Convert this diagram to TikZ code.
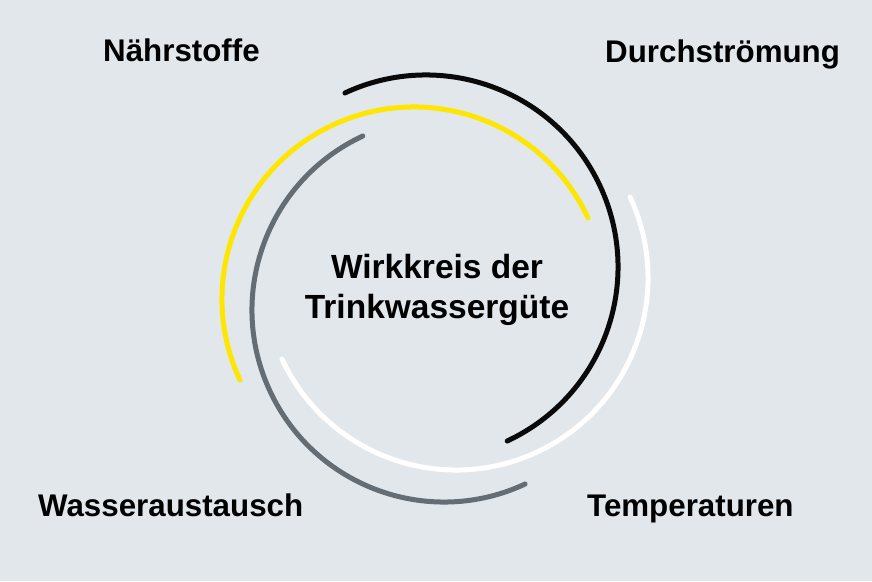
\documentclass[tikz,border=0pt]{standalone}
\usepackage{fontspec}
\setmainfont{Liberation Sans}
\definecolor{bg}{HTML}{E1E7EB}
\definecolor{arcyellow}{HTML}{FFE600}
\definecolor{arcgrey}{HTML}{646D73}
\definecolor{arcblack}{HTML}{0A0A0A}
\begin{document}
\begin{tikzpicture}[x=1pt,y=1pt,
  ring/.style={line width=5pt,line cap=round},
  label/.style={font=\fontsize{31.3}{37}\selectfont\bfseries,inner sep=0pt,text=black},
  title/.style={font=\fontsize{33.5}{40}\selectfont\bfseries,inner sep=0pt,align=center,text=black}]
\fill[bg] (0,0) rectangle (872,581);
\useasboundingbox (0,0) rectangle (872,581);
% centres of the four half circles
\coordinate (cb) at (426,314);
\coordinate (cy) at (414,282);
\coordinate (cg) at (444,271);
\coordinate (cw) at (456,303);
\draw[ring,arcblack] (cb) ++(115:192) arc[start angle=115,end angle=-65,radius=192];
\draw[ring,arcyellow] (cy) ++(25:192) arc[start angle=25,end angle=205,radius=192];
\draw[ring,arcgrey] (cg) ++(115:192) arc[start angle=115,end angle=295,radius=192];
\draw[ring,white] (cw) ++(25:192) arc[start angle=25,end angle=-155,radius=192];
% labels
\node[label,anchor=base west] (naehr) at (103,519) {Nährstoffe};
\node[label,anchor=base west] (durch) at (605,518) {Durchströmung};
\node[label,anchor=base west] (wasser) at (38,65) {Wasseraustausch};
\node[label,anchor=base west] (temp) at (587,65) {Temperaturen};
\node[title,anchor=center] (center) at (437,291) {Wirkkreis der\\Trinkwassergüte};
\end{tikzpicture}
\end{document}
